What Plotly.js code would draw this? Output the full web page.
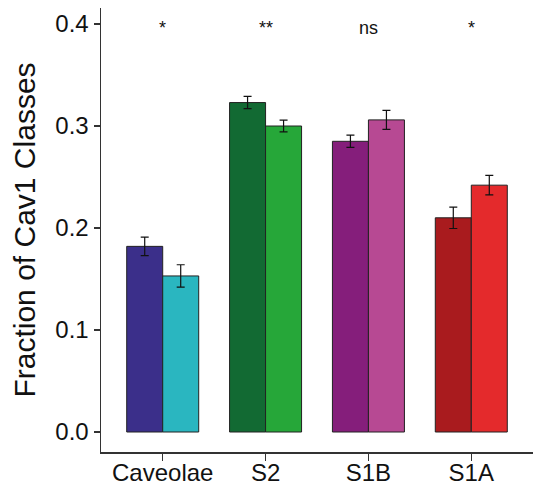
<!DOCTYPE html>
<html>
<head>
<meta charset="utf-8">
<script src="https://cdn.plot.ly/plotly-3.0.1.min.js"></script>
<style>html,body{margin:0;padding:0;background:#fff;}#chart{width:538px;height:481px;}</style>
</head>
<body>
<div id="chart"></div>
<script>
const categories = ["Caveolae", "S2", "S1B", "S1A"];
const seriesA = [0.182, 0.323, 0.285, 0.210];
const seriesAErr = [0.009, 0.006, 0.006, 0.0105];
const seriesB = [0.153, 0.300, 0.306, 0.242];
const seriesBErr = [0.011, 0.0057, 0.0093, 0.0096];
const colorsA = ["#3B2F8A", "#126A33", "#851E7B", "#A91B1E"];
const colorsB = ["#2AB6C0", "#26A739", "#B74993", "#E42A2C"];
const sigLabels = ["*", "**", "ns", "*"];
const sigY = 0.384;

const font = "Liberation Sans, Arial, Helvetica, sans-serif";

const traces = [
  {
    type: "bar", x: categories, y: seriesA,
    marker: {color: colorsA, line: {color: "#222", width: 1}},
    error_y: {type: "data", array: seriesAErr, visible: true, color: "#111", thickness: 1.2, width: 4},
    showlegend: false, hoverinfo: "none"
  },
  {
    type: "bar", x: categories, y: seriesB,
    marker: {color: colorsB, line: {color: "#222", width: 1}},
    error_y: {type: "data", array: seriesBErr, visible: true, color: "#111", thickness: 1.2, width: 4},
    showlegend: false, hoverinfo: "none"
  }
];

const annotations = categories.map((c, i) => ({
  x: c, y: sigY, xref: "x", yref: "y", text: sigLabels[i],
  showarrow: false, yanchor: "bottom", xanchor: "center",
  font: {family: font, size: 18, color: "#111"}
}));

const layout = {
  width: 538, height: 481,
  margin: {l: 101, r: 5, t: 8, b: 29, pad: 0},
  paper_bgcolor: "#fff", plot_bgcolor: "#fff",
  barmode: "group", bargap: 0.3, bargroupgap: 0,
  font: {family: font, color: "#111"},
  xaxis: {
    type: "category", range: [-0.6, 3.6], automargin: false,
    showline: true, linecolor: "#333", linewidth: 1.5,
    ticks: "outside", ticklen: 7, tickwidth: 1.5, tickcolor: "#333",
    ticklabelstandoff: -8,
    showgrid: false, zeroline: false,
    tickfont: {family: font, size: 24, color: "#111"}
  },
  yaxis: {
    range: [-0.0196, 0.4157], automargin: false,
    tickvals: [0, 0.1, 0.2, 0.3, 0.4], ticktext: ["0.0", "0.1", "0.2", "0.3", "0.4"],
    showline: true, linecolor: "#333", linewidth: 1.5,
    ticks: "outside", ticklen: 6, tickwidth: 1.5, tickcolor: "#333",
    showgrid: false, zeroline: false,
    tickfont: {family: font, size: 24, color: "#111"},
    title: {text: "Fraction of Cav1 Classes", font: {family: font, size: 30, color: "#111"}, standoff: 11}
  },
  annotations: annotations
};

Plotly.newPlot("chart", traces, layout, {staticPlot: true, displayModeBar: false});
</script>
</body>
</html>
